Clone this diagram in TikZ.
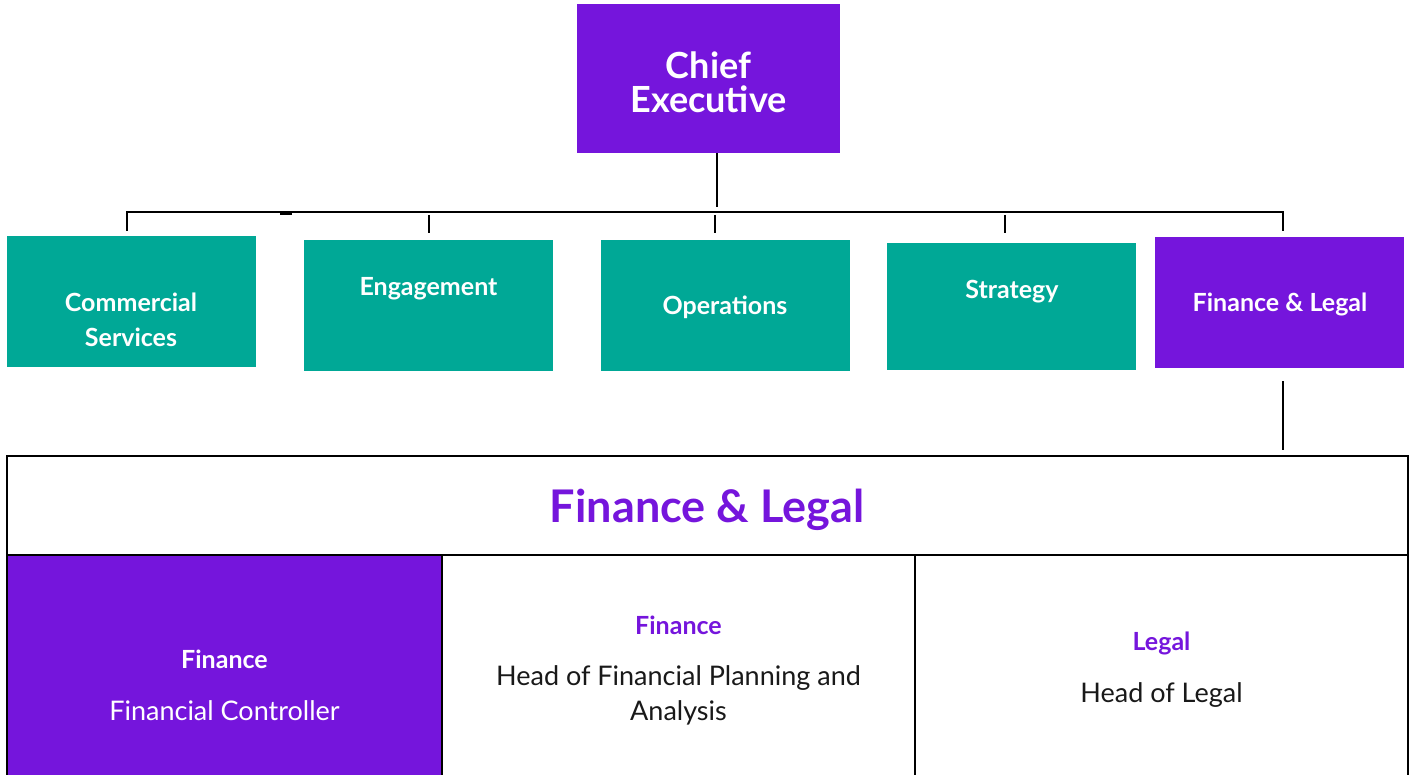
\documentclass[tikz,border=0pt]{standalone}
\usepackage{fontspec}
\setmainfont{Lato}
\usepackage{tikz}
\usetikzlibrary{positioning}

\definecolor{cepurple}{RGB}{117,21,220}
\definecolor{unitgreen}{RGB}{0,168,150}

\begin{document}
\begin{tikzpicture}[
            x=1pt, y=-1pt,
            unitbox/.style={rectangle, inner sep=0, outer sep=0, minimum width=249pt, minimum height=131pt},
            unittext/.style={text=white, font=\fontsize{25}{35}\selectfont\bfseries, align=center},
            cellbox/.style={rectangle, draw, line width=2pt, inner sep=0, outer sep=0},
            cellhead/.style={font=\fontsize{25}{28}\selectfont\bfseries},
            celltext/.style={font=\fontsize{27}{35}\selectfont, align=center, text=black!90},
            conn/.style={line width=2pt},
            node distance=20pt
        ]

        \useasboundingbox (0,0) rectangle (1410,775);
        \clip (0,0) rectangle (1410,775);

        % top of the chart
        \node[rectangle, fill=cepurple, minimum width=263pt, minimum height=149pt, inner sep=0,
              text=white, align=center, font=\fontsize{36}{34}\selectfont\bfseries] (ce) at (708.5,78.5) {};
        \node[text=white, align=center, font=\fontsize{36}{34}\selectfont\bfseries] (ce-t) at (708.5,82.5) {Chief\\Executive};

        % directorates
        \node[unitbox, fill=unitgreen] (comm) at (131.5,301.5) {};
        \node[unitbox, fill=unitgreen] (eng) at (428.5,305.5) {};
        \node[unitbox, fill=unitgreen] (ops) at (725.5,305.5) {};
        \node[unitbox, fill=unitgreen, minimum height=127pt] (strat) at (1011.5,306.5) {};
        \node[unitbox, fill=cepurple] (fl) at (1279.5,302.5) {};

        \node[unittext] (comm-t) at (131,320) {Commercial\\Services};
        \node[unittext] (eng-t) at (428.5,289) {Engagement};
        \node[unittext] (ops-t) at (725,307) {Operations};
        \node[unittext] (strat-t) at (1012,292) {Strategy};
        \node[unittext] (fl-t) at (1280,304) {Finance \& Legal};

        \coordinate (busL) at (127,212);
        \coordinate (busR) at (1283,212);

        \draw[conn] ([xshift=8pt]ce.south) -- ++(0,54);
        \draw[conn] ([yshift=-19pt]busL) -- (busL) -- (busR) -- ([yshift=-19pt]busR);
        \foreach \x in {429,715,1005}
            \draw[conn] (\x,215) -- (\x,233);
        \draw[conn] (280,214) -- (292,214);
        \draw[conn] ([xshift=3.5pt,yshift=-13pt]fl.south) -- ++(0,69);

        % finance and legal team
        \node[cellbox, minimum width=1401pt, minimum height=99pt] (hdr) at (707.5,505.5) {};
        \node[cellbox, fill=cepurple, minimum width=435pt, minimum height=260pt] (cell1) at (224.5,685) {};
        \node[cellbox, minimum width=473pt, minimum height=260pt] (cell2) at (678.5,685) {};
        \node[cellbox, minimum width=493pt, minimum height=260pt] (cell3) at (1161.5,685) {};

        \node[text=cepurple, font=\fontsize{45}{48}\selectfont\bfseries] (hdr-t) at (707,510) {Finance \& Legal};

        \node[cellhead, text=white] (c1-h) at (224.5,659) {Finance};
        \node[celltext, text=white] (c1-t) at (224.5,711) {Financial Controller};

        \node[cellhead, text=cepurple] (c2-h) at (678.5,625) {Finance};
        \node[celltext] (c2-t) at (678.5,695.5) {Head of Financial Planning and\\Analysis};

        \node[cellhead, text=cepurple] (c3-h) at (1161.5,643) {Legal};
        \node[celltext] (c3-t) at (1161.5,695) {Head of Legal};

    \end{tikzpicture}
\end{document}
